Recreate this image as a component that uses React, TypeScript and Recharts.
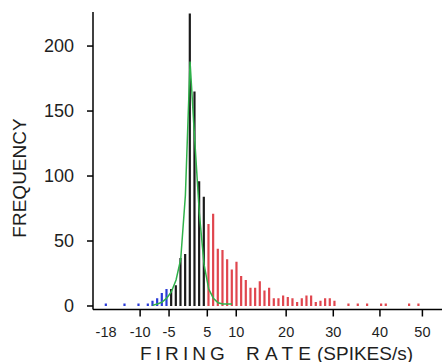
import { ComposedChart, Bar, Line, XAxis, YAxis, Cell } from "recharts";

// firing rate of each bin (spikes/s) and how many cells fell in it
const rates = [
  -18, -14, -11, -9, -8, -7, -6, -5, -4, -3, -2, -1, 0, 1, 2, 3, 4, 5, 6, 7, 8,
  9, 10, 11, 12, 13, 14, 15, 16, 17, 18, 19, 20, 21, 22, 23, 24, 25, 26, 27, 28,
  29, 30, 31, 34, 36, 38, 41, 42, 47, 49,
];
const frequency = [
  2, 2, 2, 2, 4, 6, 10, 13, 13, 16, 37, 40, 225, 165, 96, 84, 63, 71, 44, 43,
  36, 28, 34, 23, 20, 14, 14, 19, 12, 14, 6, 6, 8, 7, 6, 3, 6, 8, 8, 3, 4, 6, 6,
  4, 2, 2, 2, 2, 2, 2, 2,
];

// fitted curve over the central bins
const fitRates = [-8, -7, -6, -5, -4, -3, -2, -1, 0, 1, 2, 3, 4, 5, 6, 7, 8, 9];
const fitValues = [
  0.5, 1.5, 3, 6, 11, 20, 36, 85, 188, 128, 71, 32, 13, 6, 2.5, 1.5, 1.5, 1.5,
];

const xTicks = [-18, -10.7, -4.5, 3.7, 9.9, 20.6, 30.7, 40.7, 49.8];
const xTickLabels = ["-18", "-10", "-5", "5", "10", "20", "30", "40", "50"];
const yTicks = [0, 50, 100, 150, 200];

const FONT = '"Liberation Sans", Arial, Helvetica, sans-serif';
const INK = "#1e1e1e";

const data = rates.map((r, i) => {
  const j = fitRates.indexOf(r);
  return { rate: r, freq: frequency[i], fit: j >= 0 ? fitValues[j] : undefined };
});

const barColor = (r: number) => (r <= -5 ? "#2a3bd6" : r <= 3 ? "#1b1b1b" : "#e0464e");

function XTick(props: any) {
  const { x, y, payload } = props;
  const i = xTicks.indexOf(payload.value);
  const axisY = y - 15;
  return (
    <g>
      {i !== 0 && (
        <line x1={x} x2={x} y1={axisY} y2={axisY + 7} stroke="#000" strokeWidth={1.5} />
      )}
      <text x={x} y={y + 12} textAnchor="middle" fontSize={14.5} fill={INK} fontFamily={FONT}>
        {xTickLabels[i]}
      </text>
    </g>
  );
}

function XTitle(props: any) {
  const { viewBox } = props;
  const y = viewBox.y + 50;
  return (
    <text y={y} fontSize={19} fill={INK} fontFamily={FONT}>
      <tspan x={140} letterSpacing={4.1}>FIRING</tspan>
      <tspan x={246} letterSpacing={5.2}>RATE</tspan>
      <tspan x={317}>(SPIKES/s)</tspan>
    </text>
  );
}

function YTitle() {
  return (
    <text
      transform="translate(25.5,178) rotate(-90)"
      textAnchor="middle"
      fontSize={19}
      fill={INK}
      fontFamily={FONT}
    >
      FREQUENCY
    </text>
  );
}

export default function App() {
  return (
    <div style={{ position: "absolute", left: 0, top: 0, background: "#fff" }}>
      <ComposedChart
        width={442}
        height={362}
        data={data}
        margin={{ top: 12, right: 0, left: 0, bottom: 0 }}
      >
        <XAxis
          dataKey="rate"
          type="number"
          domain={[-20.8, 54]}
          allowDataOverflow
          ticks={xTicks}
          interval={0}
          height={52.5}
          stroke="#000"
          strokeWidth={1.5}
          tickLine={false}
          tickSize={7}
          tickMargin={8}
          tick={<XTick />}
          label={<XTitle />}
        />
        <YAxis
          type="number"
          domain={[-2.7, 226.2]}
          allowDataOverflow
          ticks={yTicks}
          width={93}
          stroke="#000"
          strokeWidth={1.5}
          tickSize={6}
          tickMargin={13}
          tick={{ fontSize: 18, fill: INK, fontFamily: FONT }}
          label={<YTitle />}
        />
        <Bar dataKey="freq" barSize={2.2} isAnimationActive={false}>
          {data.map((d) => (
            <Cell key={d.rate} fill={barColor(d.rate)} />
          ))}
        </Bar>
        <Line
          dataKey="fit"
          type="linear"
          stroke="#2fb14a"
          strokeWidth={1.5}
          dot={false}
          activeDot={false}
          isAnimationActive={false}
        />
      </ComposedChart>
    </div>
  );
}
